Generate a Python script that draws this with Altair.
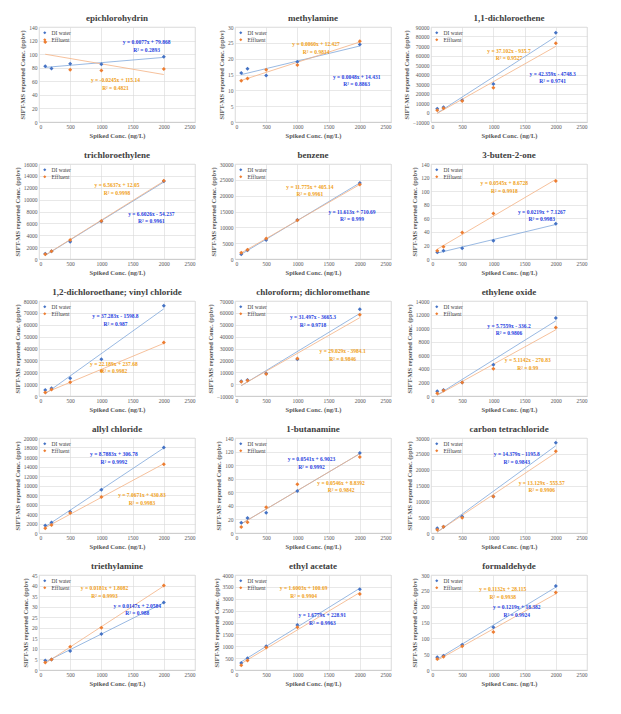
import altair as alt
import pandas as pd

X = [100, 200, 500, 1000, 2000]

NAMES = [
    "epichlorohydrin", "methylamine", "1,1-dichloroethene",
    "trichloroethylene", "benzene", "3-buten-2-one",
    "1,2-dichloroethane; vinyl chloride", "chloroform; dichloromethane", "ethylene oxide",
    "allyl chloride", "1-butanamine", "carbon tetrachloride",
    "triethylamine", "ethyl acetate", "formaldehyde",
]

DI = [
    [82, 79, 86, 85, 96],
    [15.5, 16.8, 14.7, 19, 24.5],
    [4000, 5500, 13000, 30000, 84000],
    [900, 1300, 2900, 6300, 13100],
    [1500, 2800, 6000, 12300, 24000],
    [10, 12, 16, 27, 52],
    [5000, 6500, 15000, 31000, 76000],
    [2500, 3500, 9000, 21000, 63000],
    [700, 900, 2000, 4600, 11500],
    [1600, 2200, 4500, 9100, 18000],
    [15, 22, 30, 62, 118],
    [1500, 2000, 5200, 11500, 28500],
    [4.5, 5, 9, 17, 32],
    [300, 500, 1000, 1900, 3400],
    [40, 45, 80, 135, 265],
]

EFF = [
    [118, None, 77, 76, 78],
    [13, 13.7, 16.5, 18, 25.5],
    [2500, 4500, 12000, 26000, 73000],
    [800, 1300, 3200, 6400, 13200],
    [2000, 2900, 6500, 12200, 23500],
    [12, 18, 39, 67, 115],
    [3000, 5500, 11500, 21000, 45000],
    [2000, 3000, 8500, 21500, 58500],
    [400, 800, 2000, 4000, 10100],
    [1000, 1700, 4200, 7600, 14500],
    [9, 16, 38, 72, 112],
    [1000, 2000, 4800, 11500, 25800],
    [3.5, 5, 11, 20, 40],
    [200, 400, 950, 1800, 3200],
    [35, 42, 75, 120, 245],
]

YMIN = [0, 0, -10000, 0, 0, 0, 0, -10000, 0, 0, 0, 0, 0, 0, 0]
YMAX = [140, 30, 90000, 16000, 30000, 140, 80000, 70000, 14000, 20000, 140, 30000, 45, 4000, 300]
YSTEP = [20, 5, 10000, 2000, 5000, 20, 10000, 10000, 2000, 2000, 20, 5000, 5, 500, 50]
XTICKS = [0, 500, 1000, 1500, 2000, 2500]

DI_EQ = [
    "y = 0.0077x + 79.868\nR² = 0.2893",
    "y = 0.0048x + 14.431\nR² = 0.8863",
    "y = 42.359x - 4748.3\nR² = 0.9741",
    "y = 6.6026x - 54.237\nR² = 0.9961",
    "y = 11.613x + 710.69\nR² = 0.999",
    "y = 0.0219x + 7.1267\nR² = 0.9983",
    "y = 37.283x - 1598.8\nR² = 0.987",
    "y = 31.497x - 3665.3\nR² = 0.9718",
    "y = 5.7559x - 336.2\nR² = 0.9806",
    "y = 8.7883x + 306.78\nR² = 0.9992",
    "y = 0.0541x + 6.9023\nR² = 0.9992",
    "y = 14.379x - 1195.8\nR² = 0.9843",
    "y = 0.0147x + 2.0584\nR² = 0.988",
    "y = 1.6779x + 228.91\nR² = 0.9963",
    "y = 0.1219x + 18.382\nR² = 0.9924",
]

EFF_EQ = [
    "y = -0.0245x + 115.14\nR² = 0.4821",
    "y = 0.0060x + 12.427\nR² = 0.9814",
    "y = 37.102x - 935.7\nR² = 0.9527",
    "y = 6.5637x + 12.05\nR² = 0.9998",
    "y = 11.775x + 405.14\nR² = 0.9961",
    "y = 0.0545x + 8.6728\nR² = 0.9918",
    "y = 22.189x + 237.68\nR² = 0.9982",
    "y = 29.029x - 3984.1\nR² = 0.9846",
    "y = 5.1142x - 270.83\nR² = 0.99",
    "y = 7.0671x + 430.83\nR² = 0.9983",
    "y = 0.0546x + 8.8392\nR² = 0.9842",
    "y = 13.129x - 555.57\nR² = 0.9906",
    "y = 0.0181x + 1.8082\nR² = 0.9993",
    "y = 1.6003x + 100.69\nR² = 0.9904",
    "y = 0.1132x + 28.115\nR² = 0.9938",
]

# annotation anchor positions as fractions of the plot area (layout, not data)
DI_POS = [(0.69, 0.14), (0.78, 0.50), (0.78, 0.47), (0.72, 0.50), (0.75, 0.48), (0.71, 0.48),
          (0.49, 0.14), (0.50, 0.15), (0.50, 0.24), (0.48, 0.15), (0.49, 0.20), (0.55, 0.15),
          (0.63, 0.30), (0.56, 0.40), (0.55, 0.32)]
EFF_POS = [(0.49, 0.54), (0.52, 0.16), (0.50, 0.23), (0.50, 0.20), (0.48, 0.22), (0.47, 0.18),
           (0.48, 0.64), (0.69, 0.51), (0.62, 0.60), (0.66, 0.58), (0.68, 0.45), (0.71, 0.45),
           (0.42, 0.12), (0.44, 0.12), (0.46, 0.13)]

BLUE = "#4472C4"
ORANGE = "#ED7D31"
LBLUE = "#7FA7DA"
LORANGE = "#F4B183"
DI_TXT = "#1F3FE0"
EFF_TXT = "#F0A020"
FONT = "Liberation Serif"
W = 156
H = 95
SERIES = ["DI water", "Effluent"]


def panel(i):
    rows = []
    for s, vals in zip(SERIES, (DI[i], EFF[i])):
        for x, y in zip(X, vals):
            if y is not None:
                rows.append({"x": x, "y": y, "series": s})
    df = pd.DataFrame(rows)
    yvals = list(range(YMIN[i], YMAX[i] + 1, YSTEP[i]))
    xaxis = alt.Axis(values=XTICKS, format="d", labelOverlap=False, tickCount=len(XTICKS),
                     title="Spiked Conc. (ng/L)")
    yaxis = alt.Axis(values=yvals, format="d", labelOverlap=False, tickCount=len(yvals),
                     title="SIFT-MS reported Conc. (ppbv)")
    xscale = alt.Scale(domain=[0, 2500], nice=False)
    yscale = alt.Scale(domain=[YMIN[i], YMAX[i]], nice=False)
    base = alt.Chart(df)
    lines = base.transform_regression("x", "y", groupby=["series"]).mark_line(strokeWidth=0.8).encode(
        x=alt.X("x:Q", scale=xscale, axis=xaxis),
        y=alt.Y("y:Q", scale=yscale, axis=yaxis),
        stroke=alt.Stroke("series:N", scale=alt.Scale(domain=SERIES, range=[LBLUE, LORANGE]), legend=None),
    )
    pts = base.mark_point(filled=True, shape="diamond", size=16, opacity=1).encode(
        x=alt.X("x:Q", scale=xscale, axis=xaxis),
        y=alt.Y("y:Q", scale=yscale, axis=yaxis),
        color=alt.Color("series:N", scale=alt.Scale(domain=SERIES, range=[BLUE, ORANGE]),
                        legend=alt.Legend(title=None, orient="top-left", symbolType="diamond")),
    )
    t1 = alt.Chart(pd.DataFrame({"t": [DI_EQ[i]]})).mark_text(
        font=FONT, fontSize=5.5, fontWeight="bold", color=DI_TXT, lineBreak="\n", align="center", baseline="top"
    ).encode(x=alt.value(DI_POS[i][0] * W), y=alt.value(DI_POS[i][1] * H), text="t:N")
    t2 = alt.Chart(pd.DataFrame({"t": [EFF_EQ[i]]})).mark_text(
        font=FONT, fontSize=5.5, fontWeight="bold", color=EFF_TXT, lineBreak="\n", align="center", baseline="top"
    ).encode(x=alt.value(EFF_POS[i][0] * W), y=alt.value(EFF_POS[i][1] * H), text="t:N")
    return alt.layer(lines, pts, t1, t2).resolve_scale(color="independent", stroke="independent").properties(
        width=W, height=H,
        title=alt.TitleParams(NAMES[i], font=FONT, fontSize=9, fontWeight="bold", color="#404040", offset=2),
    )


chart = alt.concat(*[panel(i) for i in range(15)], columns=3, spacing=10).resolve_scale(
    color="independent", stroke="independent", x="independent", y="independent"
).resolve_legend(color="independent").configure_view(
    stroke="#D9D9D9", strokeWidth=0.6
).configure_axis(
    labelFont=FONT, labelFontSize=5.5, labelColor="#595959", labelPadding=2,
    titleFont=FONT, titleFontSize=6.5, titleColor="#595959", titleFontWeight="bold", titlePadding=3,
    gridColor="#D9D9D9", gridWidth=0.6, ticks=False, domain=False,
).configure_axisX(domain=True, domainColor="#BFBFBF", domainWidth=0.6).configure_legend(
    labelFont=FONT, labelFontSize=5.5, labelColor="#404040", symbolSize=10, rowPadding=0,
    padding=0, offset=3, labelLimit=60,
).properties(background="white")

chart.save("out.html", embed_options={"renderer": "svg", "actions": False})
